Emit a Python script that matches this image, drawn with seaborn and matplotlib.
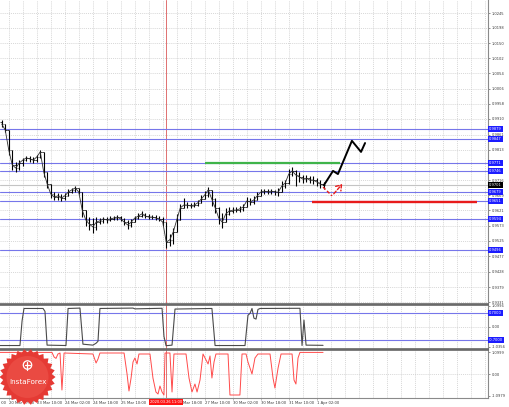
import numpy as np
import matplotlib
matplotlib.use("Agg")
import matplotlib.pyplot as plt
import seaborn as sns
from matplotlib.patches import Polygon, Circle
from matplotlib.transforms import blended_transform_factory

sns.set_style("white")
plt.rcParams['font.family'] = ['DejaVu Sans']

# ---------------- data (hourly time index, 2-hour bars) ----------------
close = [0.9894, 0.9875, 0.9812, 0.9765, 0.9755, 0.9771, 0.9780, 0.9787, 0.9784, 0.9780,
         0.9790, 0.9806, 0.9742, 0.9704, 0.9673, 0.9663, 0.9667, 0.9660, 0.9667, 0.9679,
         0.9686, 0.9692, 0.9679, 0.9622, 0.9591, 0.9578, 0.9569, 0.9584, 0.9588, 0.9594,
         0.9591, 0.9594, 0.9597, 0.9600, 0.9594, 0.9584, 0.9575, 0.9584, 0.9597, 0.9603,
         0.9610, 0.9603, 0.9600, 0.9600, 0.9597, 0.9594, 0.9584, 0.9521, 0.9528, 0.9553,
         0.9591, 0.9629, 0.9638, 0.9638, 0.9635, 0.9638, 0.9645, 0.9657, 0.9670, 0.9686,
         0.9657, 0.9629, 0.9597, 0.9584, 0.9610, 0.9619, 0.9622, 0.9622, 0.9626, 0.9632,
         0.9651, 0.9648, 0.9654, 0.9667, 0.9679, 0.9682, 0.9679, 0.9682, 0.9679, 0.9679,
         0.9698, 0.9708, 0.9736, 0.9746, 0.9733, 0.9727, 0.9720, 0.9723, 0.9717, 0.9717,
         0.9711, 0.9704, 0.9701]
high = [0.9907, 0.9888, 0.9863, 0.9812, 0.9774, 0.9780, 0.9787, 0.9793, 0.9793, 0.9790,
        0.9796, 0.9812, 0.9806, 0.9742, 0.9704, 0.9679, 0.9676, 0.9673, 0.9676, 0.9689,
        0.9692, 0.9698, 0.9692, 0.9679, 0.9622, 0.9600, 0.9597, 0.9600, 0.9597, 0.9600,
        0.9600, 0.9603, 0.9603, 0.9607, 0.9603, 0.9597, 0.9591, 0.9594, 0.9603, 0.9613,
        0.9619, 0.9613, 0.9610, 0.9607, 0.9607, 0.9603, 0.9600, 0.9584, 0.9546, 0.9565,
        0.9610, 0.9641, 0.9660, 0.9648, 0.9645, 0.9648, 0.9654, 0.9670, 0.9682, 0.9695,
        0.9686, 0.9660, 0.9632, 0.9613, 0.9629, 0.9632, 0.9632, 0.9632, 0.9635, 0.9641,
        0.9663, 0.9660, 0.9667, 0.9679, 0.9689, 0.9689, 0.9689, 0.9689, 0.9686, 0.9692,
        0.9714, 0.9717, 0.9752, 0.9758, 0.9749, 0.9742, 0.9733, 0.9733, 0.9730, 0.9730,
        0.9723, 0.9717, 0.9711]
low = [0.9885, 0.9869, 0.9796, 0.9749, 0.9742, 0.9749, 0.9761, 0.9777, 0.9774, 0.9771,
       0.9774, 0.9787, 0.9727, 0.9692, 0.9660, 0.9654, 0.9654, 0.9651, 0.9654, 0.9670,
       0.9676, 0.9679, 0.9673, 0.9600, 0.9572, 0.9559, 0.9550, 0.9559, 0.9578, 0.9581,
       0.9581, 0.9588, 0.9591, 0.9591, 0.9588, 0.9575, 0.9562, 0.9569, 0.9584, 0.9594,
       0.9600, 0.9597, 0.9594, 0.9594, 0.9591, 0.9588, 0.9572, 0.9502, 0.9509, 0.9515,
       0.9559, 0.9597, 0.9629, 0.9629, 0.9629, 0.9632, 0.9635, 0.9645, 0.9657, 0.9663,
       0.9635, 0.9613, 0.9578, 0.9565, 0.9591, 0.9607, 0.9613, 0.9616, 0.9616, 0.9619,
       0.9632, 0.9638, 0.9641, 0.9654, 0.9670, 0.9673, 0.9673, 0.9673, 0.9670, 0.9667,
       0.9679, 0.9692, 0.9704, 0.9730, 0.9698, 0.9711, 0.9708, 0.9711, 0.9708, 0.9704,
       0.9698, 0.9692, 0.9689]
first_open = 0.9900

# horizontal levels (blue), bid line, green / red segments
levels = [0.9879, 0.9847, 0.9771, 0.9746, 0.9679, 0.9651, 0.9594, 0.9496]
bid = 0.9701
green_level, green_span = 0.9772, (117, 194)
red_level, red_span = 0.9648, (178, 272.6)

# forecast path (black) and dashed red alternative
proj_h = [185.1, 190.3, 193.1, 201.1, 206.3, 208.6]
proj_p = [0.9701, 0.9746, 0.9736, 0.9841, 0.9806, 0.9834]
dash_h = [184.6, 189.7, 196.6]
dash_p = [0.9695, 0.9667, 0.9711]

# price scale labels (those visible in the reference)
price_ticks = [1.0245, 1.0198, 1.0150, 1.0102, 1.0054, 1.0006, 0.9958, 0.9910, 0.9861, 0.9813,
               0.9716, 0.9669, 0.9621, 0.9573, 0.9525, 0.9477, 0.9428, 0.9379, 0.9331]

# indicator 1 (black)
p1_h = [0, 11.4, 12.6, 13.7, 24.6, 25.7, 26.9, 37.7, 38.9, 45.7, 47.4, 53.1, 54.9, 56.0, 57.1,
        76.0, 77.1, 92.6, 93.7, 94.9, 98.3, 100.0, 121.1, 122.9, 140.0, 141.7, 142.9, 144.0,
        145.1, 146.3, 147.4, 148.6, 171.4, 172.6, 173.7, 174.9, 184.6]
p1_v = [-0.97, -0.97, 0.3, 0.95, 0.95, 0.8, -0.95, -0.97, 0.95, 0.97, -0.9, -0.95, -0.85, -0.75,
        0.95, 0.97, 0.93, 0.96, -0.5, -0.98, -0.95, 0.92, 0.95, -0.97, -0.97, 0.6, 0.7, 0.95,
        0.45, 0.4, 0.9, 0.95, 0.96, -0.97, 0.35, -0.95, -0.96]
p1_levels = [0.7, -0.7]
p1_ticks = [1.0996, 0.0, -1.0356]
p1_ticklabels = ["1.0996", "0.00", "-1.0356"]

# indicator 2 (red)
p2_h = [0, 29.7, 30.9, 32.0, 33.1, 34.3, 35.4, 36.6, 53.1, 54.9, 56.0, 57.1, 70.9, 72.6, 73.7,
        74.9, 76.0, 77.1, 78.3, 79.4, 85.7, 87.4, 89.1, 90.3, 91.4, 92.6, 93.7, 94.3, 97.1, 98.3,
        99.4, 106.3, 108.0, 109.7, 111.4, 112.6, 114.3, 116.0, 118.9, 120.0, 121.1, 122.3, 123.4,
        130.3, 131.4, 137.1, 138.3, 140.6, 141.7, 144.0, 145.7, 147.4, 154.3, 156.0, 157.1,
        158.9, 160.6, 166.9, 168.0, 169.1, 170.3, 171.4, 184.6]
p2_v = [1.08, 1.08, 0.85, 0.78, 1.0, 1.05, -0.8, 1.05, 1.0, 0.55, 0.75, 1.05, 1.05, 0.0, -0.85,
        -0.2, 0.6, 0.8, 0.5, 1.0, 1.0, -0.2, -0.9, -1.0, -0.6, -0.9, -1.05, 1.05, 1.05, -0.9,
        1.0, 1.0, -0.2, -0.9, -0.5, -0.9, -0.3, 1.0, 0.5, 0.9, -0.2, 0.6, 1.0, 1.0, -1.05,
        -1.05, 1.0, 1.0, 0.6, 0.0, 0.8, 1.0, 1.0, -0.2, -0.7, 0.3, 1.0, 1.0, -0.3, -0.5, 0.8,
        1.08, 1.08]
p2_ticks = [1.0999, 0.0, -1.0979]
p2_ticklabels = ["1.0999", "0.00", "-1.0979"]

# time axis (visible labels)
time_ticks = [5, 21, 37, 53, 69, 117, 133, 149, 165, 181]
time_labels = ["20 Mar 17:00", "23 Mar 10:00", "24 Mar 02:00", "24 Mar 18:00", "25 Mar 10:00",
               "27 Mar 10:00", "30 Mar 02:00", "30 Mar 18:00", "31 Mar 10:00", "1 Apr 02:00"]
partial_tick, partial_label = 101, "Mar 18:00"
marker_hour = 95
marker_label = "2020.03.26 11:00"

# ---------------- figure / layout ----------------
W, H = 510, 407
fig = plt.figure(figsize=(W / 100, H / 100), dpi=100)
fig.patch.set_facecolor("white")


def rect(x0, y0, x1, y1):
    return [x0 / W, 1 - y1 / H, (x1 - x0) / W, (y1 - y0) / H]


ax = fig.add_axes(rect(0, 0, 488, 304))
ax1 = fig.add_axes(rect(0, 305, 488, 349))
ax2 = fig.add_axes(rect(0, 350, 488, 398))

XMAX = 488 / 1.75
GRID_C = "#c9c9c9"
BLUE = "#7676ea"
BOX_BLUE = "#1c1cff"
TXT = "#3a3a3a"
FS = 2.6

for a in (ax, ax1, ax2):
    a.set_xlim(0, XMAX)
    a.set_facecolor("white")
    for s in ("left", "top", "bottom"):
        a.spines[s].set_visible(False)
    a.spines["right"].set_color("#8a8a8a")
    a.spines["right"].set_linewidth(0.8)
    a.yaxis.tick_right()
    a.tick_params(axis="y", labelsize=FS, length=1.5, width=0.4, pad=1.2,
                  colors=TXT, direction="out")
    a.tick_params(axis="x", bottom=False, labelbottom=False)
    for g in range(-3, 280, 8):
        a.axvline(g, color=GRID_C, lw=0.5, ls=(0, (1.5, 1.5)), zorder=0)
    a.axvline(marker_hour, color="#e07070", lw=0.7, zorder=1)

for a, s, c, w in [(ax, "bottom", "#666666", 1.2), (ax1, "top", "#666666", 1.2),
                   (ax1, "bottom", "#666666", 1.2), (ax2, "top", "#666666", 1.2),
                   (ax2, "bottom", "#8a8a8a", 0.8)]:
    a.spines[s].set_visible(True)
    a.spines[s].set_color(c)
    a.spines[s].set_linewidth(w)

# ---------------- main price panel ----------------
ax.set_ylim(0.93253, 1.02861)
ax.set_yticks(price_ticks)
ax.set_yticklabels([f"{v:.4f}" for v in price_ticks])
for v in price_ticks:
    ax.axhline(v, color=GRID_C, lw=0.5, ls=(0, (1.5, 1.5)), zorder=0)

n = len(close)
t = np.arange(n) * 2 + 1
opens = [first_open] + close[:-1]
lo_draw = np.minimum(np.minimum(low, close), opens)
hi_draw = np.maximum(np.maximum(high, close), opens)

for v in levels:
    ax.axhline(v, color=BLUE, lw=0.8, zorder=2)
ax.axhline(bid, color="#c4c4c4", lw=0.8, zorder=2)
ax.hlines(green_level, *green_span, color="#3fb44a", lw=1.6, zorder=3)
ax.hlines(red_level, *red_span, color="#e81b1b", lw=1.7, zorder=3)

ax.vlines(t, lo_draw, hi_draw, color="black", lw=0.8, zorder=4)
ax.hlines(opens, t - 0.8, t, color="black", lw=0.5, zorder=4)
ax.hlines(close, t, t + 0.8, color="black", lw=0.5, zorder=4)
sns.lineplot(x=t, y=close, ax=ax, color="#303030", lw=0.6, zorder=4)

sns.lineplot(x=proj_h, y=proj_p, ax=ax, color="black", lw=1.4, sort=False, zorder=5)
ax.plot(dash_h[:2], dash_p[:2], color="#e81b1b", lw=1.0, ls=(0, (2.5, 1.5)), zorder=5)
ax.annotate("", xy=(dash_h[2], dash_p[2]), xytext=(dash_h[1], dash_p[1]),
            arrowprops=dict(arrowstyle="->,head_length=0.35,head_width=0.25",
                            color="#e81b1b", lw=1.0, ls=(0, (2.5, 1.5))), zorder=5)

ytr = ax.get_yaxis_transform()
for v in levels:
    ax.text(1.002, v, f"{v:.4f}", transform=ytr, ha="left", va="center", fontsize=FS,
            color="white", zorder=10, clip_on=False,
            bbox=dict(boxstyle="square,pad=0.25", fc=BOX_BLUE, ec="none"))
ax.text(1.002, bid, f"{bid:.4f}", transform=ytr, ha="left", va="center", fontsize=FS,
        color="white", zorder=11, clip_on=False,
        bbox=dict(boxstyle="square,pad=0.25", fc="black", ec="none"))

# ---------------- indicator 1 ----------------
ax1.set_ylim(-1.15, 1.13)
ax1.set_yticks(p1_ticks)
ax1.set_yticklabels(p1_ticklabels)
ax1.axhline(0, color=GRID_C, lw=0.5, ls=(0, (1.5, 1.5)), zorder=0)
for v in p1_levels:
    ax1.axhline(v, color=BLUE, lw=0.8, zorder=2)
sns.lineplot(x=p1_h, y=p1_v, ax=ax1, color="#4a4a4a", lw=0.8, zorder=4)
ytr1 = ax1.get_yaxis_transform()
for v in p1_levels:
    ax1.text(1.002, v, f"{v:.4f}", transform=ytr1, ha="left", va="center", fontsize=FS,
             color="white", zorder=10, clip_on=False,
             bbox=dict(boxstyle="square,pad=0.25", fc=BOX_BLUE, ec="none"))

# ---------------- indicator 2 ----------------
ax2.set_ylim(-1.2, 1.2)
ax2.set_yticks(p2_ticks)
ax2.set_yticklabels(p2_ticklabels)
ax2.axhline(0, color=GRID_C, lw=0.5, ls=(0, (1.5, 1.5)), zorder=0)
sns.lineplot(x=p2_h, y=p2_v, ax=ax2, color="#ff4a4a", lw=0.7, zorder=4)

for a in (ax, ax1, ax2):
    a.set_xlabel("")
    a.set_ylabel("")

# time labels
xtr = blended_transform_factory(ax2.transData, ax2.transAxes)
for h, lab in zip(time_ticks, time_labels):
    ax2.plot([h, h], [0, -0.05], transform=xtr, color="#8a8a8a", lw=0.4, clip_on=False)
    ax2.text(h + 0.3, -0.06, lab, transform=xtr, ha="left", va="top", fontsize=2.7,
             color=TXT, clip_on=False, zorder=6)
ax2.text(0.2, -0.06, ":00", transform=xtr, ha="left", va="top", fontsize=2.7,
         color=TXT, clip_on=False, zorder=6)
ax2.text(partial_tick + 3.5, -0.06, partial_label, transform=xtr, ha="left", va="top",
         fontsize=2.7, color=TXT, clip_on=False, zorder=6)
ax2.text(marker_hour, -0.05, marker_label, transform=xtr, ha="center", va="top",
         fontsize=2.6, color="white", clip_on=False, zorder=12,
         bbox=dict(boxstyle="square,pad=0.3", fc="#ff1414", ec="none"))

# ---------------- InstaForex badge ----------------
ov = fig.add_axes([0, 0, 1, 1], zorder=20)
ov.set_xlim(0, W)
ov.set_ylim(H, 0)
ov.axis("off")
ov.patch.set_alpha(0)
cx, cy, R, r, npts = 27.5, 377, 28, 24.5, 26
ang = np.linspace(0, 2 * np.pi, 2 * npts, endpoint=False)
rad = np.where(np.arange(2 * npts) % 2 == 0, R, r)
star = np.column_stack([cx + rad * np.cos(ang), cy + rad * np.sin(ang)])
ov.add_patch(Polygon(star, closed=True, fc="#e53a34", ec="none"))
ov.add_patch(Circle((cx, cy), 21, fc="#ea4a42", ec="none"))
ov.add_patch(Circle((cx, cy - 12), 4.2, fc="none", ec="white", lw=0.9))
ov.plot([cx, cx], [cy - 15, cy - 7], color="white", lw=0.9)
ov.plot([cx - 2.5, cx + 2.5], [cy - 12, cy - 12], color="white", lw=0.9)
ov.text(cx, cy + 5, "InstaForex", ha="center", va="center", fontsize=5.2, color="white")

fig.savefig("out.png", dpi=100, facecolor="white")
